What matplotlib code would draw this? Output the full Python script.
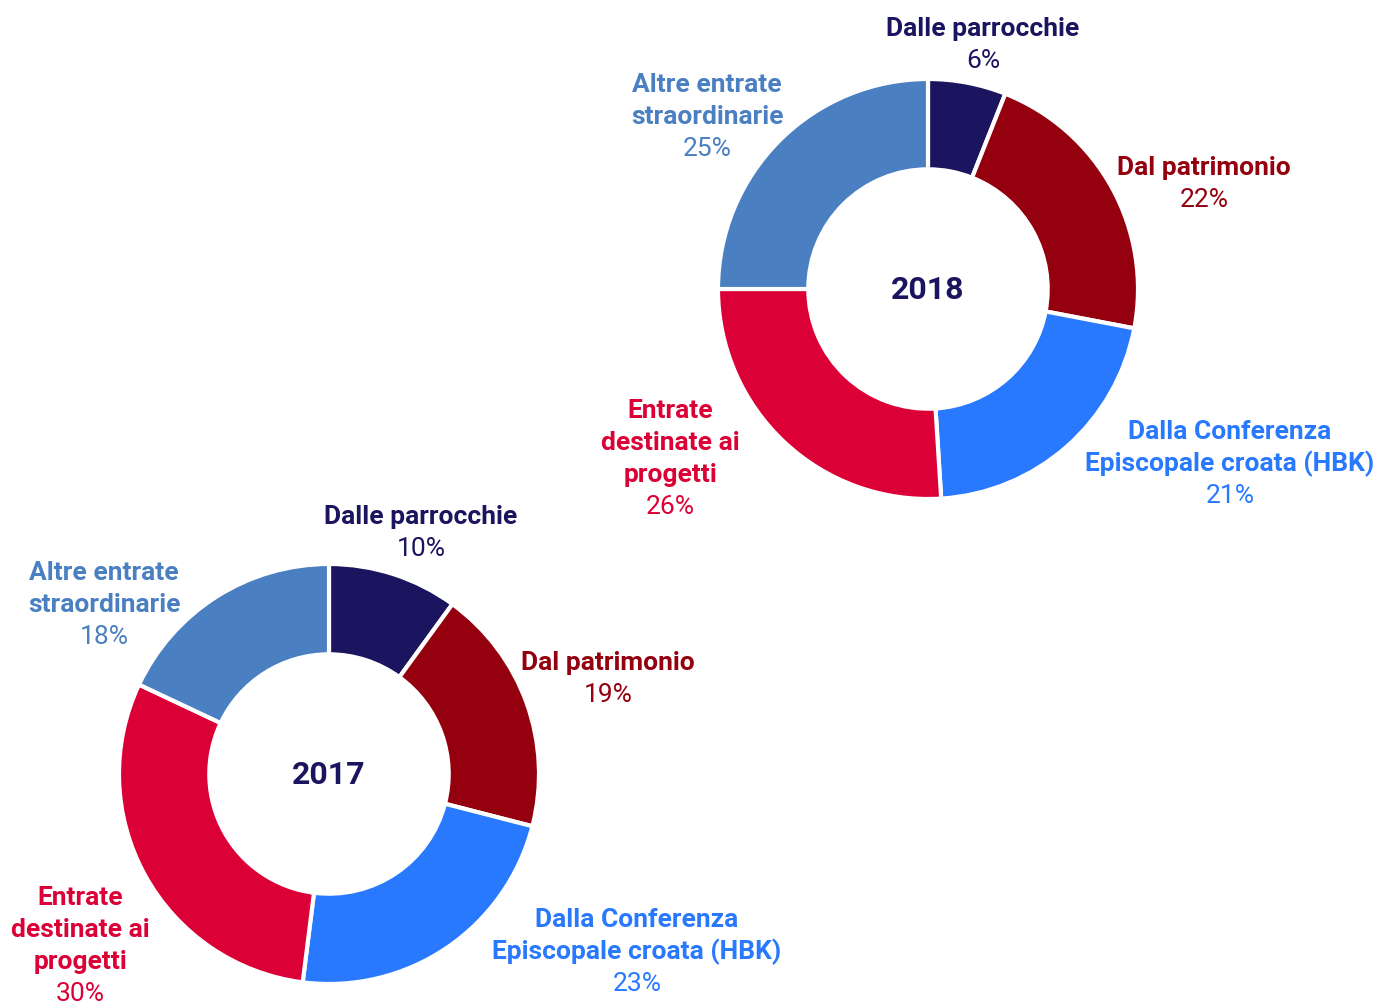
import matplotlib.pyplot as plt

plt.rcParams['font.family'] = ['Roboto', 'DejaVu Sans']

categories = ["Dalle parrocchie", "Dal patrimonio",
              "Dalla Conferenza\nEpiscopale croata (HBK)",
              "Entrate\ndestinate ai\nprogetti",
              "Altre entrate\nstraordinarie"]
colors = ["#1b145e", "#95000f", "#2979ff", "#db0035", "#4a80c2"]

years = ["2018", "2017"]
shares_2018 = [6, 22, 21, 26, 25]
shares_2017 = [10, 19, 23, 30, 18]

# layout in pixels (figure drawn 1379 x 1003), label pos = centre of first line
centers = {"2018": (928, 290), "2017": (329, 775)}
label_pos = {
    "2018": [(983, 29), (1204, 168), (1230, 432), (670, 411), (707, 85)],
    "2017": [(421, 517), (608, 663), (637, 920), (80, 898), (104, 573)],
}
radius = 210
hole = 0.57
step = 32

fig = plt.figure(figsize=(13.79, 10.03), dpi=100)
ax = fig.add_axes([0, 0, 1, 1])

data = {"2018": shares_2018, "2017": shares_2017}
for yr in years:
    cx, cy = centers[yr]
    # y axis inverted, so counterclock=True draws clockwise on screen
    ax.pie(data[yr], colors=colors, startangle=-90, counterclock=True,
           center=(cx, cy), radius=radius, frame=True,
           wedgeprops=dict(width=radius * (1 - hole), edgecolor='white', linewidth=3))
    ax.text(cx, cy, yr, ha='center', va='center', fontsize=23,
            fontweight='bold', color="#1b145e")
    for cat, val, col, (lx, ly) in zip(categories, data[yr], colors, label_pos[yr]):
        lines = cat.split("\n")
        for i, line in enumerate(lines):
            ax.text(lx, ly + step * i, line, ha='center', va='center',
                    fontsize=19, fontweight='bold', color=col)
        ax.text(lx, ly + step * len(lines), f"{val}%", ha='center', va='center',
                fontsize=19, color=col)

ax.set_xlim(0, 1379)
ax.set_ylim(1003, 0)
ax.set_aspect('equal')
ax.axis('off')
fig.savefig("out.png", dpi=100)
